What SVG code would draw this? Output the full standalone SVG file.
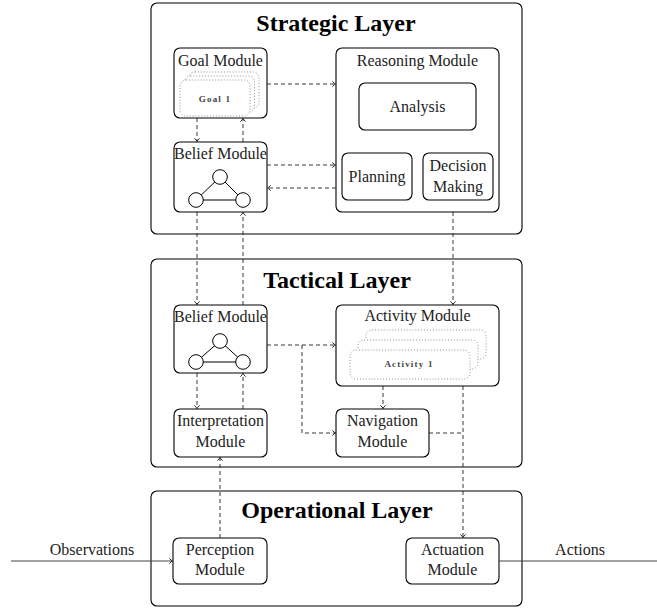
<svg xmlns="http://www.w3.org/2000/svg" width="657" height="608" viewBox="0 0 657 608">
<style>
text{font-family:"Liberation Serif","Times New Roman",serif;fill:#222;text-anchor:middle}
.t{font-size:16px}
.h{font-size:24px;font-weight:bold;fill:#000}
.s{font-size:9px;font-weight:bold;letter-spacing:1.2px;fill:#444}
.box{fill:#fff;stroke:#000;stroke-width:1.1}
.dot{fill:#fff;stroke:#777;stroke-width:0.9;stroke-dasharray:0.9 2}
.circ{fill:#fff;stroke:#000;stroke-width:1}
.edge{stroke:#000;stroke-width:1}
#connectors .d{fill:none;stroke:#222;stroke-width:0.9;stroke-dasharray:4 3}
#connectors .l{fill:none;stroke:#444;stroke-width:1.1}
</style>
<defs>
<marker id="arr" viewBox="-5 -4 6 8" refX="0" refY="0" markerWidth="6" markerHeight="8" orient="auto" markerUnits="userSpaceOnUse">
<path d="M-3.2,-2.6 Q-1.2,-0.6 0,0 Q-1.2,0.6 -3.2,2.6" fill="none" stroke="#000" stroke-width="0.8"/>
</marker>
</defs>
<rect width="657" height="608" fill="#fff"/>

<g id="strategic-layer">
<rect class="box" x="151" y="3" width="371" height="231" rx="6"/>
<text class="h" x="336" y="31">Strategic Layer</text>
</g>
<g id="tactical-layer">
<rect class="box" x="151" y="259" width="371" height="208" rx="6"/>
<text class="h" x="337" y="288">Tactical Layer</text>
</g>
<g id="operational-layer">
<rect class="box" x="151" y="491" width="371" height="115" rx="6"/>
<text class="h" x="337" y="518">Operational Layer</text>
</g>

<g id="goal-module">
<rect class="box" x="174" y="48" width="93" height="70" rx="6"/>
<text class="t" x="220.5" y="66">Goal Module</text>
<rect class="dot" x="189" y="72" width="70" height="36" rx="6"/>
<rect class="dot" x="184.5" y="76" width="70" height="36" rx="6"/>
<rect class="dot" x="180" y="80" width="70" height="36" rx="6"/>
<text class="s" x="215" y="102">Goal 1</text>
</g>

<g id="belief-module-strategic">
<rect class="box" x="174" y="142" width="93" height="70" rx="6"/>
<text class="t" x="220.5" y="159">Belief Module</text>
<line class="edge" x1="196" y1="200" x2="220" y2="177"/>
<line class="edge" x1="243" y1="200" x2="220" y2="177"/>
<line class="edge" x1="196" y1="200" x2="243" y2="200"/>
<circle class="circ" cx="220" cy="177" r="7.3"/>
<circle class="circ" cx="196" cy="200" r="7.3"/>
<circle class="circ" cx="243" cy="200" r="7.3"/>
</g>

<g id="reasoning-module">
<rect class="box" x="336" y="48" width="163" height="164" rx="6"/>
<text class="t" x="417.5" y="66">Reasoning Module</text>
</g>
<g id="analysis">
<rect class="box" x="359" y="83" width="117" height="47" rx="6"/>
<text class="t" x="417.5" y="112">Analysis</text>
</g>
<g id="planning">
<rect class="box" x="342" y="153" width="70" height="47" rx="6"/>
<text class="t" x="377" y="182">Planning</text>
</g>
<g id="decision-making">
<rect class="box" x="423" y="153" width="70" height="47" rx="6"/>
<text class="t" x="458" y="171">Decision</text>
<text class="t" x="458" y="192">Making</text>
</g>

<g id="belief-module-tactical">
<rect class="box" x="174" y="305" width="93" height="68" rx="6"/>
<text class="t" x="220.5" y="322">Belief Module</text>
<line class="edge" x1="196" y1="362" x2="220" y2="341"/>
<line class="edge" x1="243" y1="362" x2="220" y2="341"/>
<line class="edge" x1="196" y1="362" x2="243" y2="362"/>
<circle class="circ" cx="220" cy="341" r="7.3"/>
<circle class="circ" cx="196" cy="362" r="7.3"/>
<circle class="circ" cx="243" cy="362" r="7.3"/>
</g>

<g id="activity-module">
<rect class="box" x="336" y="305" width="163" height="81" rx="6"/>
<text class="t" x="417.5" y="321">Activity Module</text>
<rect class="dot" x="366" y="330" width="120" height="29" rx="6"/>
<rect class="dot" x="358" y="340" width="120" height="29" rx="6"/>
<rect class="dot" x="350" y="350" width="120" height="29" rx="6"/>
<text class="s" x="409" y="367">Activity 1</text>
</g>

<g id="interpretation-module">
<rect class="box" x="174" y="409" width="93" height="48" rx="6"/>
<text class="t" x="220.5" y="426">Interpretation</text>
<text class="t" x="220.5" y="447">Module</text>
</g>

<g id="navigation-module">
<rect class="box" x="336" y="409" width="93" height="48" rx="6"/>
<text class="t" x="382.5" y="426">Navigation</text>
<text class="t" x="382.5" y="447">Module</text>
</g>

<g id="perception-module">
<rect class="box" x="173" y="538" width="94" height="46" rx="6"/>
<text class="t" x="220" y="555">Perception</text>
<text class="t" x="220" y="575">Module</text>
</g>

<g id="actuation-module">
<rect class="box" x="406" y="538" width="93" height="46" rx="6"/>
<text class="t" x="452.5" y="555">Actuation</text>
<text class="t" x="452.5" y="575">Module</text>
</g>

<g id="connectors">
<path class="d" d="M267,84 H335.5" marker-end="url(#arr)"/>
<path class="d" d="M267,165 H335.5" marker-end="url(#arr)"/>
<path class="d" d="M336,188 H267.5" marker-end="url(#arr)"/>
<path class="d" d="M197,118 V141.5" marker-end="url(#arr)"/>
<path class="d" d="M243,142 V118.5" marker-end="url(#arr)"/>
<path class="d" d="M197,212 V304.5" marker-end="url(#arr)"/>
<path class="d" d="M243,305 V212.5" marker-end="url(#arr)"/>
<path class="d" d="M453,212 V304.5" marker-end="url(#arr)"/>
<path class="d" d="M267,345 H335.5" marker-end="url(#arr)"/>
<path class="d" d="M302,345 V433 H335.5" marker-end="url(#arr)"/>
<path class="d" d="M383,386 V408.5" marker-end="url(#arr)"/>
<path class="d" d="M463,386 V537.5" marker-end="url(#arr)"/>
<path class="d" d="M429,433 H463"/>
<path class="d" d="M197,373 V408.5" marker-end="url(#arr)"/>
<path class="d" d="M243,409 V373.5" marker-end="url(#arr)"/>
<path class="d" d="M220,538 V457.5" marker-end="url(#arr)"/>
<path class="l" d="M11,561 H172.5" marker-end="url(#arr)"/>
<path class="l" d="M499,561 H657"/>
<text class="t" x="92" y="555">Observations</text>
<text class="t" x="580" y="555">Actions</text>
</g>
</svg>
